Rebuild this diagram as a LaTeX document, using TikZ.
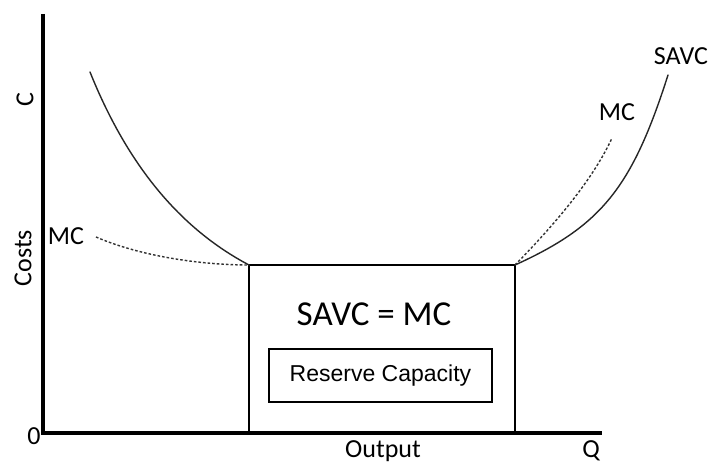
\documentclass[tikz,border=0pt]{standalone}
\usepackage{fontspec}
\setmainfont{Carlito}
\newfontfamily\arialfont{Liberation Sans}
\begin{document}
\begin{tikzpicture}[x=1pt,y=-1pt,
  axis/.style={line width=3.5pt},
  thin line/.style={line width=1.3pt},
  curve/.style={line width=1.4pt, line cap=round, black!85},
  mcdash/.style={line width=1.4pt, black!80, dash pattern=on 2.6pt off 2pt},
  lbl/.style={font=\fontsize{26}{30}\selectfont, inner sep=0pt},
  big/.style={font=\fontsize{35}{40}\selectfont, inner sep=0pt},
  capbox/.style={draw, line width=1.3pt, minimum width=223pt, minimum height=53pt,
    inner sep=0pt, font=\arialfont\fontsize{23}{27}\selectfont}]
\useasboundingbox (0,0) rectangle (712,465);
\fill[white] (0,0) rectangle (712,465);

% axes
\coordinate (o) at (43,433);
\coordinate (ytop) at (43,14);
\coordinate (xend) at (602,433);
\draw[axis] (ytop) -- (o) -- (xend);

% corners of the flat segment
\coordinate (bl) at (249,265);
\coordinate (br) at (515,265);
\draw[thin line] (bl |- o) -- (bl) -- (br) -- (br |- o);

% short-run average variable cost
\coordinate (savcl) at (90,72);
\coordinate (savcr) at (668,75);
\draw[curve] (savcl) .. controls (127,164) and (179,228) .. (bl);
\draw[curve] (br) .. controls (601,226) and (632,188) .. (savcr);

% marginal cost
\coordinate (mcl) at (96,237);
\coordinate (mcr) at (612,138);
\draw[mcdash] (mcl) .. controls (140,256) and (200,265) .. (bl);
\draw[mcdash] (br) .. controls (562,217) and (595,175) .. (mcr);

% labels
\node[lbl, rotate=90] (lc) at (25,100) {C};
\node[lbl, rotate=90] (lcosts) at (23,258) {Costs};
\node[lbl] (lmcl) at (66,236) {MC};
\node[lbl] (lzero) at (34,436) {0};
\node[lbl] (lout) at (383,451) {Output};
\node[lbl] (lq) at (591,451) {Q};
\node[lbl] (lsavc) at (681,56) {SAVC};
\node[lbl] (lmcr) at (617,112) {MC};
\node[big, anchor=base] (leq) at (374,325) {SAVC = MC};
\node[capbox] (rc) at (380.5,375.5) {Reserve Capacity};
\end{tikzpicture}
\end{document}
